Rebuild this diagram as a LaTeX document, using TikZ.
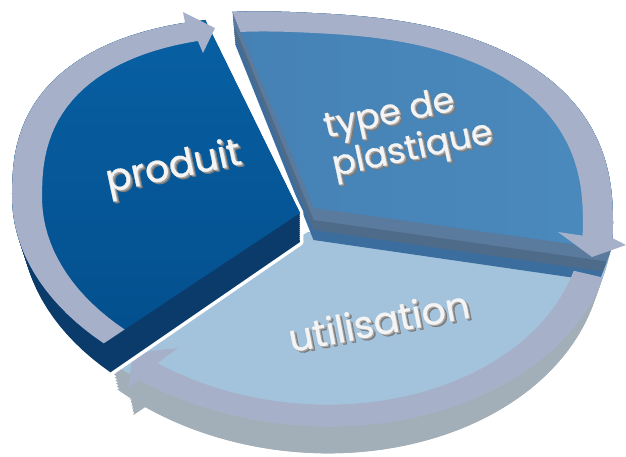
\documentclass[tikz,border=0pt]{standalone}
\usepackage{fontspec}
\setmainfont{Poppins}
\newfontfamily\lblfont{Poppins}[FakeBold=0.7]
\definecolor{ringc}{HTML}{A6B0C9}
\definecolor{utop}{HTML}{A3C3DC}
\definecolor{uside}{HTML}{A2AEB8}
\definecolor{ttopA}{HTML}{4581B5}
\definecolor{ttopB}{HTML}{4B8ABD}
\definecolor{tb1}{HTML}{5A7B9D}
\definecolor{tb2}{HTML}{4F6B8A}
\definecolor{tb3}{HTML}{3B6E9F}
\definecolor{ptopA}{HTML}{0760A3}
\definecolor{ptopB}{HTML}{044F8D}
\definecolor{pside}{HTML}{0B3B6B}
\definecolor{lblc}{HTML}{F4F4F4}
\definecolor{shA}{HTML}{A8A8A8}
\definecolor{shB}{HTML}{7A7A7A}
\newcommand\ProdTop{(300,213) -- plot[domain=134:254,samples=45] ({ex(\x,1)},{pY(\x,1)}) -- cycle}
\newcommand\ProdArrow{plot[domain=134:250,samples=45] ({ex(\x,1)},{pY(\x,1)}) -- (183,12) -- (215,28) -- (203,53) -- plot[domain=250:134,samples=45] ({ex(\x,0.9)},{pY(\x,0.9)}) -- cycle}
\newcommand\TypeTop{(314,208) -- plot[domain=259:366,samples=50] ({ex(\x,1)},{tY(\x,1)}) -- cycle}
\newcommand\TypeArrow{plot[domain=259:363,samples=50] ({ex(\x,1)},{tY(\x,1)}) -- (626,245) -- (592,257) -- (558,232) -- plot[domain=363:259,samples=50] ({ex(\x,0.9)},{tY(\x,0.9)}) -- cycle}
\newcommand\UtilTop{(308,232) -- plot[domain=6:132,samples=50] ({ex(\x,1)},{uY(\x,1)}) -- cycle}
\newcommand\UtilArrow{plot[domain=15:125,samples=50] ({ex(\x,1)},{uY(\x,1)}) -- (128,388) -- (133,353) -- (178,348) -- plot[domain=125:15,samples=50] ({ex(\x,0.9)},{uY(\x,0.9)}) -- cycle}
\newcommand\tdd[1]{\rlap{\kern2.2pt\raisebox{-2.6pt}{\color{shB}#1}}\rlap{\kern1.1pt\raisebox{-1.3pt}{\color{shA}#1}}#1}
\tikzset{
  lbl/.style={font=\lblfont\fontsize{38}{40}\selectfont, text=lblc, inner sep=0pt, align=left},
  lblsm/.style={lbl, font=\lblfont\fontsize{35}{36}\selectfont},
  ext/.style={shift={({300*0.00117*#1},#1)}, xscale={1-0.00117*#1}}
}
\begin{document}
\begin{tikzpicture}[x=1pt,y=-1pt,
  declare function={
    sg(\v)=1-2*(\v<0);
    me(\t)=1-0.2*(sin(\t)<0);
    cc(\t)=sg(cos(\t))*pow(abs(cos(\t))+0.00001,me(\t));
    ss(\t)=sg(sin(\t))*pow(abs(sin(\t))+0.00001,me(\t));
    ex(\t,\s)=312.5+\s*300.5*cc(\t);
    pY(\t,\s)=205+\s*(8*cc(\t)+(200-12*(sin(\t)<0))*ss(\t));
    tY(\t,\s)=212+\s*(15*cc(\t)+(216-17*(sin(\t)<0))*ss(\t));
    uY(\t,\s)=210+\s*(12*cc(\t)+216*ss(\t));
  }]
\useasboundingbox (0,0) rectangle (626,456);
% ---- utilisation slice
\foreach \d in {0,3,...,24,27}{
  \fill[uside, ext=\d] \UtilTop;
  \fill[uside, ext=\d] \UtilArrow;
}
\fill[utop] \UtilTop;
% ---- type de plastique slice
\foreach \d in {0,2,...,32}{\fill[tb3, ext=\d] \TypeTop;}
\foreach \d in {0,2,...,22}{\fill[tb2, ext=\d] \TypeTop;}
\foreach \d in {0,2,...,12}{\fill[tb1, ext=\d] \TypeTop;}
\shade[left color=ttopA, right color=ttopB] \TypeTop;
\fill[ringc] \UtilArrow;
\fill[ringc] \TypeArrow;
% ---- produit slice
\foreach \d in {0,2,...,28,29}{\draw[white, line width=7pt, line join=round, ext=\d] \ProdTop;}
\foreach \d in {0,2,...,28,29}{\fill[pside, ext=\d] \ProdTop;}
\shade[top color=ptopA, bottom color=ptopB] \ProdTop;
\fill[ringc] \ProdArrow;
% ---- labels
\node[lbl, rotate=12] (tprod) at (174,170) {\tdd{produit}};
\node[lblsm, rotate=12] (ttype) at (409,133) {\tdd{type de}\\\tdd{plastique}};
\node[lbl, rotate=11] (tutil) at (379,322) {\tdd{utilisation}};
\end{tikzpicture}
\end{document}
